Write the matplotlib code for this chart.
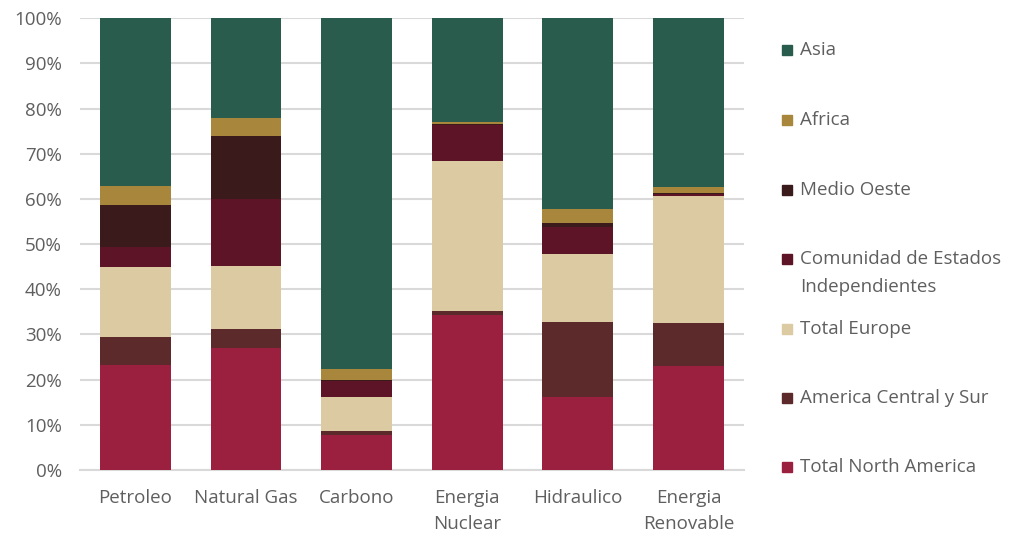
import matplotlib
matplotlib.use("Agg")
import matplotlib.pyplot as plt
from matplotlib.patches import Rectangle
from matplotlib.ticker import PercentFormatter
import numpy as np

plt.rcParams['font.family'] = ['Open Sans', 'DejaVu Sans']

categories = ["Petroleo", "Natural Gas", "Carbono", "Energia\nNuclear",
              "Hidraulico", "Energia\nRenovable"]

# share of each region per energy source, in %
north_america = [23.2, 27.0, 7.8, 34.4, 16.1, 23.0]
central_south = [6.2, 4.2, 0.9, 0.8, 16.7, 9.6]
europe = [15.6, 14.0, 7.4, 33.3, 15.1, 28.0]
cis = [4.3, 14.8, 3.6, 7.8, 5.9, 0.4]
middle_east = [9.3, 14.0, 0.2, 0.2, 0.8, 0.2]
africa = [4.3, 3.8, 2.4, 0.6, 3.2, 1.4]
asia = [37.1, 22.2, 77.7, 22.9, 42.2, 37.4]

series_names = ["Total North America", "America Central y Sur", "Total Europe",
                "Comunidad de Estados\nIndependientes", "Medio Oeste", "Africa", "Asia"]
series_values = [north_america, central_south, europe, cis, middle_east, africa, asia]
colors = ["#9B2040", "#5C2A2A", "#DCCAA2", "#5C1426", "#3A1A1A", "#A8873D", "#2A5C4E"]

text_color = "#5F5F5F"
grid_color = "#D9D9D9"
fs = 13.5

fig = plt.figure(figsize=(10.12, 5.35), dpi=100)
ax = fig.add_axes([0.079, 0.1215, 0.656, 0.8445])

x = np.arange(len(categories))
bottom = np.zeros(len(categories))
for name, vals, col in zip(series_names, series_values, colors):
    vals = np.array(vals, dtype=float)
    ax.bar(x, vals, bottom=bottom, width=0.64, color=col, label=name, zorder=3)
    bottom += vals

ax.set_xlim(-0.5, len(categories) - 0.5)
ax.set_ylim(0, 100)
ax.set_yticks(np.arange(0, 101, 10))
ax.yaxis.set_major_formatter(PercentFormatter(decimals=0))
ax.set_xticks(x)
ax.set_xticklabels(categories, linespacing=1.55)

ax.grid(axis='y', color=grid_color, linewidth=1.5, zorder=0)
for side in ['top', 'right', 'left']:
    ax.spines[side].set_visible(False)
ax.spines['bottom'].set_color(grid_color)
ax.spines['bottom'].set_linewidth(1.5)
ax.tick_params(axis='both', length=0, labelsize=fs, colors=text_color)
ax.tick_params(axis='y', pad=13)
ax.tick_params(axis='x', pad=14)

# legend on the right, Asia at the top
legend_y = [50, 120, 190, 259, 329, 398, 467]
for name, col, ypix in zip(series_names[::-1], colors[::-1], legend_y):
    yf = 1 - ypix / 535
    fig.add_artist(Rectangle((782 / 1012, yf - 5 / 535), 10 / 1012, 10 / 535,
                             transform=fig.transFigure, color=col))
    for i, line in enumerate(name.split('\n')):
        fig.text(800 / 1012, yf - i * 28 / 535, line, ha='left', va='center',
                 fontsize=fs, color=text_color)

fig.savefig("out.png", dpi=100)
